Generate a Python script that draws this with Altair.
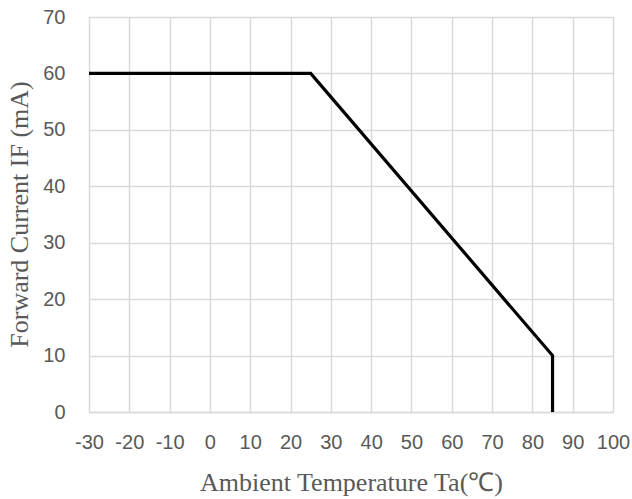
import altair as alt
import pandas as pd

temps = [-30, 25, 85, 85]
currents = [60, 60, 10, 0]
order = [0, 1, 2, 3]
x_ticks = list(range(-30, 101, 10))
y_ticks = list(range(0, 71, 10))

df = pd.DataFrame({"temp": temps, "current": currents, "order": order})

grey_text = "#595959"
grid_col = "#d9d9d9"

chart = alt.Chart(df).mark_line(color="black", strokeWidth=3.2, strokeJoin="miter").encode(
    x=alt.X("temp:Q",
            scale=alt.Scale(domain=[-30, 100], nice=False, zero=False),
            axis=alt.Axis(values=x_ticks, title="Ambient Temperature Ta(℃)",
                          labelExpr="toString(datum.value)",
                          labelFont="Liberation Sans", labelFontSize=20, labelColor=grey_text,
                          labelPadding=20, tickSize=0, labelFlush=False, labelOverlap=False,
                          domain=True, domainColor=grid_col, domainWidth=1.5,
                          grid=True, gridColor=grid_col, gridWidth=1.5,
                          titleFont="Liberation Serif", titleFontSize=26, titleFontWeight="normal",
                          titleColor=grey_text, titleBaseline="alphabetic", titleY=78)),
    y=alt.Y("current:Q",
            scale=alt.Scale(domain=[0, 70], nice=False),
            axis=alt.Axis(values=y_ticks, title="Forward Current IF (mA)",
                          labelExpr="toString(datum.value)",
                          labelFont="Liberation Sans", labelFontSize=20, labelColor=grey_text,
                          labelPadding=24, tickSize=0, labelFlush=False, labelOverlap=False,
                          domain=False,
                          grid=True, gridColor=grid_col, gridWidth=1.5,
                          titleFont="Liberation Serif", titleFontSize=26, titleFontWeight="normal",
                          titleColor=grey_text, titleBaseline="alphabetic", titleAngle=-90,
                          titleX=-62, titleY=197)),
    order="order:O",
).properties(
    width=524, height=395,
    autosize=alt.AutoSizeParams(type="none"),
    padding={"left": 89, "top": 17, "right": 19, "bottom": 87},
).configure_view(stroke=None).configure(background="white")

chart.save("out.html", embed_options={"renderer": "svg", "actions": False})
